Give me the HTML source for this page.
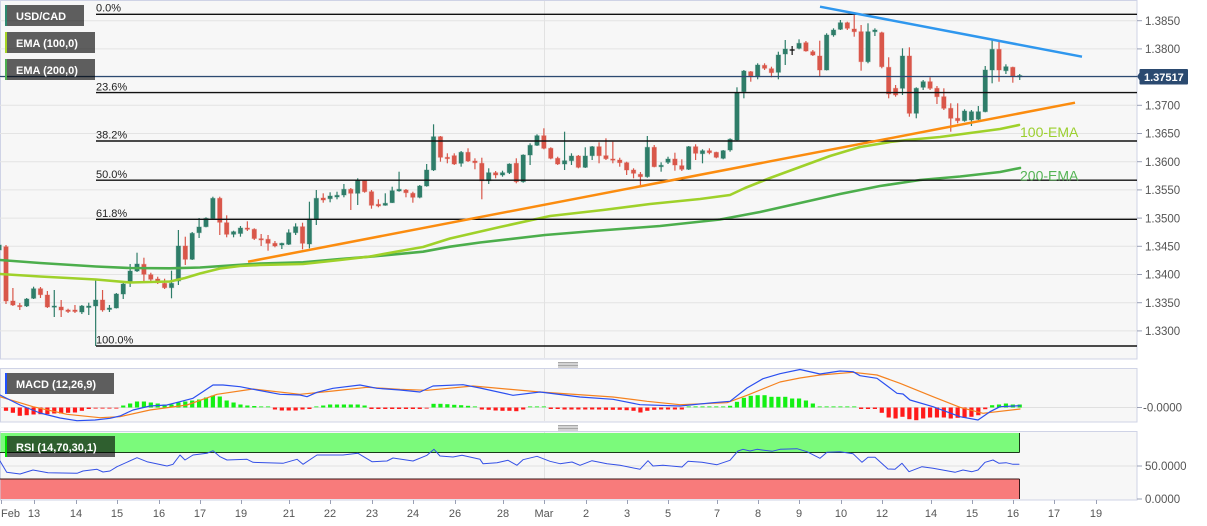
<!DOCTYPE html>
<html><head><meta charset="utf-8">
<style>
html,body{margin:0;padding:0;background:#fff;}
svg{display:block;font-family:"Liberation Sans",Arial,sans-serif;}
</style></head><body>
<svg id="c" width="1207" height="526" viewBox="0 0 1207 526" xmlns="http://www.w3.org/2000/svg">
<rect x="0" y="0" width="1207" height="526" fill="#fff"/>
<rect x="0.5" y="0.5" width="1136.5" height="358.5" fill="#f7f7f7" stroke="#cfd3e6"/>
<rect x="0.5" y="368.5" width="1136.5" height="53.5" fill="#f7f7f7" stroke="#cfd3e6"/>
<rect x="0.5" y="431.5" width="1136.5" height="68.5" fill="#f7f7f7" stroke="#cfd3e6"/>
<g id="grid" stroke="#e4e4e4" stroke-width="1"></g>
<line x1="544.5" y1="1" x2="544.5" y2="358" stroke="#e2e2e2"/>
<line x1="544.5" y1="369" x2="544.5" y2="421" stroke="#e2e2e2"/>
<line x1="544.5" y1="432" x2="544.5" y2="499" stroke="#e2e2e2"/>
<!-- RSI bands -->
<rect x="0.5" y="433" width="1018.5" height="19" fill="#7bfa7b"/>
<rect x="0.5" y="479" width="1018.5" height="20" fill="#f87b7b"/>
<line x1="0" y1="452.5" x2="1019.5" y2="452.5" stroke="#1a3a1a" stroke-width="1"/>
<line x1="0" y1="479" x2="1019.5" y2="479" stroke="#3a1a1a" stroke-width="1"/>
<line x1="1019.5" y1="433" x2="1019.5" y2="452.5" stroke="#1a3a1a" stroke-width="1"/>
<line x1="1019.5" y1="479" x2="1019.5" y2="499" stroke="#3a1a1a" stroke-width="1"/>
<line x1="0" y1="466" x2="1137" y2="466" stroke="#e0e0e0"/>
<line x1="0" y1="407.5" x2="1137" y2="407.5" stroke="#e0e0e0"/>
<g id="candles"></g>
<g id="hist"></g>
<g id="lines" fill="none"></g>
<!-- fib lines -->
<g stroke="#111" stroke-width="1.4">
<line x1="96" y1="14.3" x2="1137" y2="14.3"/>
<line x1="96" y1="92.6" x2="1137" y2="92.6"/>
<line x1="96" y1="141" x2="1137" y2="141"/>
<line x1="96" y1="180.2" x2="1137" y2="180.2"/>
<line x1="96" y1="219.3" x2="1137" y2="219.3"/>
<line x1="96" y1="346" x2="1137" y2="346"/>
</g>
<g font-size="11" fill="#222">
<text x="96" y="11.5">0.0%</text>
<text x="96" y="90.3">23.6%</text>
<text x="96" y="138.7">38.2%</text>
<text x="96" y="177.9">50.0%</text>
<text x="96" y="217">61.8%</text>
<text x="96" y="343.7">100.0%</text>
</g>
<!-- trend lines -->
<line x1="248" y1="261.7" x2="1075" y2="102.7" stroke="#fb8c0f" stroke-width="2.5"/>
<line x1="820" y1="6.7" x2="1082" y2="56.7" stroke="#2f97ee" stroke-width="2.5"/>
<!-- current price line -->
<line x1="0" y1="76.5" x2="1137" y2="76.5" stroke="#2c4a72" stroke-width="1.2"/>
<text x="1020" y="137" font-size="14" fill="#9bcf2e">100-EMA</text>
<text x="1020" y="180.5" font-size="14" fill="#55b455">200-EMA</text>
<!-- y axis -->
<g stroke="#9aa0b5" stroke-width="1">
<line x1="1137" y1="20.7" x2="1142" y2="20.7"/><line x1="1137" y1="48.9" x2="1142" y2="48.9"/>
<line x1="1137" y1="105.3" x2="1142" y2="105.3"/><line x1="1137" y1="133.5" x2="1142" y2="133.5"/>
<line x1="1137" y1="161.7" x2="1142" y2="161.7"/><line x1="1137" y1="189.9" x2="1142" y2="189.9"/>
<line x1="1137" y1="218.1" x2="1142" y2="218.1"/><line x1="1137" y1="246.3" x2="1142" y2="246.3"/>
<line x1="1137" y1="274.5" x2="1142" y2="274.5"/><line x1="1137" y1="302.7" x2="1142" y2="302.7"/>
<line x1="1137" y1="330.9" x2="1142" y2="330.9"/>
<line x1="1137" y1="407.5" x2="1142" y2="407.5"/>
<line x1="1137" y1="466" x2="1142" y2="466"/><line x1="1137" y1="499" x2="1142" y2="499"/>
</g>
<g font-size="11.5" fill="#555">
<text x="1145" y="24.9">1.3850</text>
<text x="1145" y="53.1">1.3800</text>
<text x="1145" y="109.5">1.3700</text>
<text x="1145" y="137.7">1.3650</text>
<text x="1145" y="165.9">1.3600</text>
<text x="1145" y="194.1">1.3550</text>
<text x="1145" y="222.3">1.3500</text>
<text x="1145" y="250.5">1.3450</text>
<text x="1145" y="278.7">1.3400</text>
<text x="1145" y="306.9">1.3350</text>
<text x="1145" y="335.1">1.3300</text>
<text x="1143" y="411.5">-0.0000</text>
<text x="1145" y="470">50.0000</text>
<text x="1145" y="503">0.0000</text>
</g>
<path d="M1137 76.5 L1140 72 L1140 81 Z" fill="#2b4a70"/>
<rect x="1139.5" y="69" width="48.5" height="15.5" rx="1" fill="#2b4a70"/>
<text x="1144" y="81" font-size="11" font-weight="bold" fill="#fff">1.37517</text>
<!-- splitter grips -->
<g stroke="#8a8a8a" stroke-width="0.8">
<line x1="558" y1="362.5" x2="578" y2="362.5"/><line x1="558" y1="364" x2="578" y2="364"/><line x1="558" y1="365.5" x2="578" y2="365.5"/><line x1="558" y1="367" x2="578" y2="367"/>
<line x1="558" y1="425.5" x2="578" y2="425.5"/><line x1="558" y1="427" x2="578" y2="427"/><line x1="558" y1="428.5" x2="578" y2="428.5"/><line x1="558" y1="430" x2="578" y2="430"/>
</g>
<!-- x axis -->
<g id="xticks" stroke="#9aa0b5"></g>
<g font-size="11" fill="#555" text-anchor="middle">
<text x="1" y="517" text-anchor="start">Feb</text>
<text x="34" y="517">13</text><text x="76" y="517">14</text><text x="117" y="517">15</text>
<text x="159" y="517">16</text><text x="200" y="517">17</text><text x="241" y="517">19</text>
<text x="289" y="517">21</text><text x="330" y="517">22</text><text x="372" y="517">23</text>
<text x="413" y="517">24</text><text x="455" y="517">26</text><text x="503" y="517">28</text>
<text x="544" y="517">Mar</text><text x="586" y="517">2</text><text x="627" y="517">3</text>
<text x="668" y="517">5</text><text x="717" y="517">7</text><text x="758" y="517">8</text>
<text x="799" y="517">9</text><text x="841" y="517">10</text><text x="882" y="517">12</text>
<text x="931" y="517">14</text><text x="972" y="517">15</text><text x="1013" y="517">16</text>
<text x="1054" y="517">17</text><text x="1096" y="517">19</text>
</g>
<!-- legends -->
<rect x="5" y="5" width="79" height="21" fill="rgba(0,0,0,0.62)"/>
<rect x="5" y="5" width="2" height="21" fill="#2e8a70"/>
<text x="16" y="19.8" font-size="11" font-weight="bold" fill="#fff">USD/CAD</text>
<rect x="5" y="32" width="90" height="21" fill="rgba(0,0,0,0.62)"/>
<rect x="5" y="32" width="2" height="21" fill="#a5d424"/>
<text x="16" y="46.8" font-size="11" font-weight="bold" fill="#fff">EMA (100,0)</text>
<rect x="5" y="59" width="90" height="21" fill="rgba(0,0,0,0.62)"/>
<rect x="5" y="59" width="2" height="21" fill="#4caf50"/>
<text x="16" y="73.8" font-size="11" font-weight="bold" fill="#fff">EMA (200,0)</text>
<rect x="5" y="373" width="109" height="21" fill="rgba(0,0,0,0.62)"/>
<rect x="5" y="373" width="2" height="21" fill="#2050ff"/>
<text x="16" y="387.8" font-size="11" font-weight="bold" fill="#fff">MACD (12,26,9)</text>
<rect x="5" y="436" width="110" height="21" fill="rgba(0,0,0,0.62)"/>
<rect x="5" y="436" width="2" height="21" fill="#00e000"/>
<text x="16" y="450.8" font-size="11" font-weight="bold" fill="#fff">RSI (14,70,30,1)</text>
</svg>
<script>
(function(){
var NS="http://www.w3.org/2000/svg";
function el(tag,a,p){var e=document.createElementNS(NS,tag);for(var k in a)e.setAttribute(k,a[k]);p.appendChild(e);return e;}
var grid=document.getElementById('grid');
for(var k=0;k<12;k++){var y=20.7+k*28.2;el('line',{x1:0,y1:y,x2:1137,y2:y},grid);}
var xt=document.getElementById('xticks');
[1,34,76,117,159,200,241,289,330,372,413,455,503,544,586,627,668,717,758,799,841,882,931,972,1013,1054,1096].forEach(function(x){el('line',{x1:x+0.5,y1:500,x2:x+0.5,y2:504},xt);});
var C=[
[-1,'g',245,250,243,265],[0,'r',246.7,301,245,304],[1,'r',301,305,288,306],[2,'r',305.5,306.5,303,310],
[3,'g',299,306,298,307],[4,'g',288.7,298.3,286.7,299],[5,'r',288.7,294.7,287,298],[6,'r',295,307,291,308],
[7,'g',306,307,290,317],[8,'r',307,310,300,317],[9,'r',310,311.5,308.7,313],[10,'r',310,311.5,305,313],
[11,'g',306,312,305,314],[12,'g',306,307.5,302.7,315],[13,'g',300,306,280,346],[14,'r',300,310,290,311.7],
[15,'g',308,309.5,305,312],[16,'g',294,308,293,308.5],[17,'g',284,294,283,299],[18,'g',271,283,264,287],
[19,'g',264,271,252.7,272],[20,'r',264.3,274.3,257.7,282.7],[21,'r',274.7,279.3,272.7,282],[22,'r',279,282.7,276.7,284],
[23,'r',283.3,287.7,278.7,289],[24,'g',283.3,287.7,270.7,298.3],[25,'g',246,281,230,285],[26,'r',246,259.3,236.7,265],
[27,'g',233.3,259.3,232,260],[28,'g',227,232.7,218,238],[29,'g',218.3,226.7,217.3,227.3],[30,'g',198.3,218.5,196.7,219],
[31,'r',198.3,222.3,196.7,235],[32,'r',222.7,234.3,215.3,237.3],[33,'g',231.7,234.3,230.7,237.3],[34,'g',228,233.5,226,236.7],
[35,'r',228,229.3,221.3,231],[36,'r',229.3,238.5,228.3,240],[37,'r',238.7,239.5,234,246],[38,'r',239.3,243.3,235,250.7],
[39,'r',243.3,246,241,247.3],[40,'g',243.3,245,242.7,249],[41,'g',232.7,244.3,229.3,245],[42,'g',226.7,232.7,223.3,235],
[43,'r',226.7,243.3,222.7,249.3],[44,'g',219,244,201.7,248.3],[45,'g',198.3,219,190,225],[46,'r',198,200,193.3,202.7],
[47,'g',196,198.7,192.3,202.3],[48,'g',195.3,197,191.7,199.3],[49,'g',189.3,195,184,197.3],[50,'r',189.3,193.3,188,210],
[51,'g',180,193.3,178.3,205],[52,'r',180.7,191.7,180,192.7],[53,'r',191.7,205.3,190,208.7],[54,'r',204.3,206,199.3,207.3],
[55,'g',203.3,205.3,193.3,205.7],[56,'g',190.7,202.7,186.7,203],[57,'g',189.3,191,171.7,191.7],[58,'r',190,192.7,189,197.3],
[59,'r',193.3,197.3,191.7,202.7],[60,'g',186,197.3,185,198.3],[61,'g',170,186,164,186.7],[62,'g',136.7,170,124.3,171],
[63,'r',136.7,157.3,136,161.7],[64,'r',157.3,158.7,153.3,163.3],[65,'r',155.7,164,153.3,165],[66,'g',152.3,163.3,151,166.7],
[67,'r',152.3,161,148.3,162],[68,'r',161,162.7,158.3,169.3],[69,'r',163.3,180.7,157.7,199.3],[70,'g',172.7,180.7,168.3,184],
[71,'r',172.7,175,171,178.3],[72,'g',172.7,175,170.7,176.7],[73,'g',164,172.7,163.3,174],[74,'r',163.3,181.7,158.3,183.3],
[75,'g',155,181.7,154.3,182.7],[76,'g',145.3,155,143.3,165],[77,'g',135.7,145.3,134.3,146],[78,'r',135.7,148.3,128.3,149.3],
[79,'r',148.3,158.3,147.3,159.3],[80,'r',158.3,164,156.7,165],[81,'g',160.7,164,131.7,170],[82,'g',156,160.7,153.3,165],
[83,'r',156,167.3,155,168.3],[84,'g',156,167.3,147.3,168],[85,'g',146.7,155.7,146,160],[86,'r',146.7,155.7,142.3,163.3],
[87,'r',155.7,158.7,138.3,160],[88,'r',159,159.7,141.7,163.3],[89,'r',160,162.7,157.7,166.7],[90,'r',162.7,170,161.7,175],
[91,'r',170,173.3,168.3,178.3],[92,'r',174.3,176.7,172,186],[93,'g',147.3,176.7,136,177.7],[94,'r',147.3,166.7,145,167.3],
[95,'g',165.3,166.7,162.3,171.7],[96,'g',159,162.3,156.7,164],[97,'r',159,165,152.7,170.7],[98,'r',165.7,169.3,159.3,171],
[99,'g',146.7,169.3,146,170],[100,'r',146.7,153.3,144.3,160],[101,'g',150.7,153.7,149.3,163.3],[102,'r',150.7,152.7,148.3,154.3],
[103,'r',152.3,157.3,151.7,158.3],[104,'g',150.7,158.3,150,159.3],[105,'g',139.3,150,138.3,151.7],[106,'g',92.7,140,87.3,141],
[107,'g',71,91.7,70,98.3],[108,'r',71.7,76.7,71,81.7],[109,'g',65,76.7,63.3,79.3],[110,'r',65.3,68.3,63.3,70],
[111,'r',68.7,72.7,66.7,77.3],[112,'g',55,72.3,51.7,79.3],[113,'g',49,54,40,65],[114,'k',49.5,50.5,46,55],
[115,'g',43.3,48.3,39.3,49.3],[116,'r',42.7,51,41,51.7],[117,'r',51.7,55,50,56],[118,'r',56,70,40.7,76],
[119,'g',35,70,33.3,70.5],[120,'g',30,35,28.3,36.7],[121,'g',22.7,29.3,20,30],[122,'r',22.7,28.3,21.7,30],
[123,'r',29,31.7,13.3,36.7],[124,'r',31.7,61.7,25,70.7],[125,'g',31.7,61.7,23.3,63.3],[126,'g',30,31.7,28.3,36],
[127,'r',32.7,66.7,31.7,68.3],[128,'r',67.3,94,57.3,98.3],[129,'r',88.3,95,85,96.7],[130,'g',56,88.3,48.3,95],
[131,'r',56,113.3,47.3,116.7],[132,'g',88.3,113.3,87.3,118.3],[133,'g',81.7,87.3,80,90],[134,'r',81.7,88.3,77.3,90],
[135,'r',88.3,96.7,86,104],[136,'r',96.7,108.3,88.3,110],[137,'r',108.3,118.3,103.3,131.7],[138,'r',118.3,120.7,103.3,123.3],
[139,'g',111,120.7,109.3,121.7],[140,'g',111.7,120,110,126],[141,'g',111.7,119.3,106,120],[142,'g',70,111.7,66,112.3],
[143,'g',49.3,70,40,83.3],[144,'r',49.3,70,41.7,81.7],[145,'g',66.7,70.7,64.3,74],[146,'r',67.3,76,66.7,82.7],
[147,'g',75.5,76.5,74,80]
];
function X(i){return 6+i*6.896;}
var col={g:'#2e7d69',r:'#d9574a',k:'#111'};
var halo={g:'rgba(46,125,105,0.35)',r:'rgba(217,87,74,0.35)',k:'#111'};
var cg=document.getElementById('candles');
C.forEach(function(c){
 var x=X(c[0]),t=c[1];
 el('line',{x1:x,y1:c[4],x2:x,y2:c[5],stroke:col[t],'stroke-width':1.2},cg);
 if(t==='k'){el('line',{x1:x-2.5,y1:50,x2:x+2.5,y2:50,stroke:'#111','stroke-width':1.3},cg);return;}
 var h=Math.max(c[3]-c[2],1.2);
 el('rect',{x:x-2.2,y:c[2],width:4.4,height:h,fill:col[t],stroke:halo[t],'stroke-width':1},cg);
});
var H=[-3.3,-5.3,-8.3,-7.7,-7,-6.7,-6.7,-6,-6,-5.3,-5,-3.3,-1.2,-0.8,-0.6,-0.5,-0.3,
2,4,6,6,5,4,3,3,5,6,7,8,10,12,11,7,5,3,2,1,0.5,0.3,
-2,-3,-3,-3,-2,-1,0.3,
2,3,3,3,3,3,2,-1,-1.5,-1.5,-1.5,-1.5,-1.5,-1.5,-1.5,-0.5,
3.7,3.7,3.3,2.7,2.3,1.7,0.5,
-2,-2.3,-3,-3.3,-3.3,-3.7,-2,0.3,0.3,0.3,-1,
-1.5,-2,-2,-2,-2,-2,-2,-2.3,-2.3,-2.3,-2.7,-3.3,-5,-3.3,-2.3,-2,-2,-2,-2,
0.4,0.4,0.4,0.4,0.4,0.4,
1.7,5.7,9.7,11.7,12.3,12.3,10.7,10.7,10.7,9,9,7,4,0.7,0.7,0.7,0.7,0.7,0.7,
-1.3,-1.3,-1.3,-5.3,-10,-11,-9.3,-11.7,-12.7,-11,-10,-10,-10,-11,-10.3,-10.3,-9.3,-7.7,-1.7,2.3,3,4,3,3];
var hg=document.getElementById('hist');
H.forEach(function(v,i){
 var x=X(i),a=Math.max(Math.abs(v),1.5),op=Math.abs(v)<1?0.55:1;
 var y=v>=0?407.5-a:407.5;
 el('rect',{x:x-2.1,y:y,width:4.2,height:a,fill:v>=0?'#14f014':'#ff1a1a','fill-opacity':op},hg);
});
var lg=document.getElementById('lines');
function pl(pts,color,w){el('polyline',{points:pts.map(function(p){return p[0]+','+p[1];}).join(' '),stroke:color,'stroke-width':w,'stroke-linejoin':'round','stroke-linecap':'round'},lg);}
pl([[0,260],[40,263],[96,266.5],[130,268],[170,268.3],[200,267.5],[260,263.5],[303,262.3],[340,259],[370,256.7],[423,251.7],[450,246.7],[480,242.5],[545,235],[600,230.5],[660,226],[720,219.5],[760,212],[800,203],[840,194],[880,186],[920,180],[960,176.5],[1000,172],[1020,168]],'#4cae4c',2.6);
pl([[0,274],[40,276.5],[96,279.5],[130,282.5],[170,281.5],[185,278],[200,273.5],[220,268.5],[240,266],[260,265],[303,264],[340,260],[370,256.5],[400,251],[423,247],[450,238.5],[500,227],[550,216],[603,210],[650,204],[700,199],[730,195],[745,188],[770,178],[800,167],[830,156],[860,147],[890,142],[907,140],[940,137],[970,133],[1000,129],[1019,125]],'#9fd12a',2.6);
pl([[0,396.7],[33,406.7],[67,414.3],[100,417.7],[120,416.7],[150,410],[187,405],[217,394.3],[253,389],[300,394.3],[333,391],[367,387.3],[400,389.3],[427,390.3],[473,386],[540,392],[613,397],[647,401.3],[680,404.7],[727,402.7],[747,395.3],[780,382],[800,378],[820,375],[853,372.3],[877,375],[900,383.3],[933,396.7],[960,407.3],[983,413.3],[1020,409]],'#f5821f',1.2);
pl([[0,395],[20,405],[40,413],[60,418],[77,420.7],[95,420],[110,418.3],[120,416],[133,410],[150,406],[167,405],[180,401.7],[193,398.3],[213,385],[223,385],[240,386.7],[257,390],[280,394.3],[300,395],[307,396.7],[317,392.3],[333,388.3],[360,385],[377,388.3],[400,390],[420,392],[433,386],[463,384.7],[480,388],[513,395.3],[540,392],[580,397],[613,399.3],[640,404.7],[680,406],[713,402.7],[730,401.3],[747,388],[763,378.7],[780,373.7],[800,369.5],[820,374],[840,371],[853,371.7],[860,375.7],[877,378.3],[897,393.3],[903,394],[910,400],[933,406.7],[960,416.7],[978,420],[990,411.7],[1000,406.7],[1020,405.7]],'#2a4ff0',1.2);
pl([[0,461],[6.7,472.3],[20,474],[33,470],[48,472.7],[77,473.3],[83,471],[97,469.3],[103,472],[110,471],[117,466.7],[137,457.7],[147,461.7],[167,466],[173,464.3],[180,455],[185,460],[193,455],[207,453.3],[213,450.7],[220,456.7],[227,460],[247,459.3],[253,462.3],[283,463.3],[297,459.3],[303,464.3],[317,455],[343,455],[358,453.3],[372,461.7],[387,461],[393,458],[413,461],[427,455.3],[434,449.3],[440,456],[453,457],[462,455.3],[480,459.3],[483,463.7],[497,462.7],[508,460.3],[517,465.3],[523,459.7],[537,456.3],[550,461.3],[560,463.7],[572,462],[580,465.3],[592,460.7],[607,463.7],[620,465.3],[640,469.3],[648,460.7],[653,466],[663,465.3],[682,467],[688,461.3],[702,462.3],[717,464.7],[730,460.3],[738,451],[743,449.3],[750,451],[757,449.3],[772,451.3],[780,449.3],[797,448.7],[807,451.7],[820,458.3],[827,452.3],[840,451.7],[853,453.7],[862,462.3],[868,457.3],[875,457.3],[888,469],[895,469.3],[902,463.3],[909,471.7],[922,466.7],[933,468.3],[955,472.3],[963,470],[972,471.7],[978,470],[985,462.3],[993,460],[999,463.3],[1006,462.7],[1013,464.3],[1019,464.3]],'#3450e6',1);
})();
</script>
</body></html>
